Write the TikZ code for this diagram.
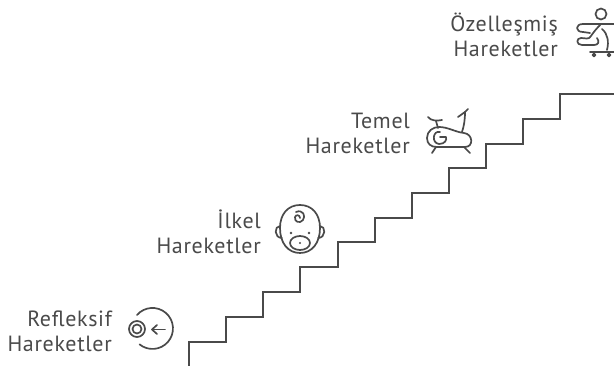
\documentclass[tikz,border=0pt]{standalone}
\usepackage{fontspec}
\setmainfont[LetterSpace=3]{PT Sans}
\definecolor{ink}{HTML}{4A4A4A}
\tikzset{
  stair/.style={draw=ink,line width=1.8pt,line join=miter},
  icon/.style={draw=ink,line width=1.7pt,line cap=round,line join=round},
  label/.style={anchor=east,align=right,text=ink,inner sep=0pt,font=\fontsize{22}{25}\selectfont},
}
\begin{document}
\begin{tikzpicture}[x=1pt,y=-1pt]
\useasboundingbox (0,0) rectangle (614,366);
\clip (0,0) rectangle (614,366);
\draw[stair] (189,366) -- (189,342) -- (226,342) -- (226,317) -- (263,317) -- (263,292) -- (300,292) -- (300,267) -- (338,267) -- (338,242) -- (375,242) -- (375,218) -- (412,218) -- (412,193) -- (449,193) -- (449,168) -- (486,168) -- (486,144) -- (523,144) -- (523,119) -- (560,119) -- (560,94) -- (614,94);
\node[label] (refleksif) at (112,331) {Refleksif\\Hareketler};
\node[label] (ilkel) at (261,232) {İlkel\\Hareketler};
\node[label] (temel) at (410,133) {Temel\\Hareketler};
\node[label] (ozel) at (558,35) {Özelleşmiş\\Hareketler};
% reflex icon
\draw[icon] (137,315) arc[start angle=221,end angle=489,radius=20.5];
\draw[icon] (137,329) circle[radius=8];
\draw[icon] (137,329) circle[radius=4.5];
\draw[icon] (165,329.5) -- (152,329.5);
\draw[icon] (157,325) -- (152,329.5) -- (157,334);
% baby icon
\draw[icon] (300,205) .. controls (288,205) and (280,214) .. (280,228) .. controls (280,243) and (288,253) .. (300,253) .. controls (312,253) and (320,243) .. (320,228) .. controls (320,214) and (312,205) .. (300,205) -- cycle;
\draw[icon] (280,226) .. controls (274,226) and (274,238) .. (282,238);
\draw[icon] (320,226) .. controls (326,226) and (326,238) .. (318,238);
\draw[icon] (296,212) .. controls (303,209) and (306,216) .. (303,220) .. controls (300,224) and (294,222) .. (295,217) .. controls (296,214) and (300,215) .. (300,218);
\fill[ink] (291,233) circle[radius=1.3];
\fill[ink] (309,233) circle[radius=1.3];
\fill[ink] (300,243) circle[radius=1.1];
\draw[icon] (300,243) ellipse[x radius=10,y radius=7];
% bike icon
\draw[icon] (428,117) .. controls (431,121) and (437,121) .. (442,120);
\draw[icon] (436,121) -- (438,128);
\draw[icon] (458,117) -- (465,112) -- (468,109);
\draw[icon] (465,112) .. controls (465,120) and (464,126) .. (462,132);
\draw[icon] (427,138) .. controls (427,131) and (433,127) .. (439,127) .. controls (448,127) and (455,132) .. (464,133) .. controls (473,134) and (474,147) .. (465,147) -- (437,147) .. controls (431,147) and (427,144) .. (427,138) -- cycle;
\draw[icon] (440,132) .. controls (433,130) and (431,143) .. (439,144) .. controls (445,144) and (447,140) .. (446,137) -- (440,137);
\draw[icon] (436,147) -- (432,153);
\draw[icon] (464,147) -- (470,153);
% skater icon
\draw[icon] (601,14) circle[radius=5.5];
\draw[icon] (583,24) -- (620,24);
\draw[icon] (583,24) .. controls (575,24) and (575,32) .. (583,32) -- (590,33);
\draw[icon] (601,24) .. controls (596,29) and (593,33) .. (591,36) .. controls (589,40) and (585,38) .. (581,38) .. controls (576,38) and (576,45) .. (582,45) -- (594,45) .. controls (598,45) and (600,42) .. (597,38);
\draw[icon] (602,29) .. controls (608,34) and (609,42) .. (607,50);
\draw[icon] (590,52) -- (620,52);
\draw[icon] (594,55) circle[radius=1.5];
\draw[icon] (609,55) circle[radius=1.5];
\end{tikzpicture}
\end{document}
